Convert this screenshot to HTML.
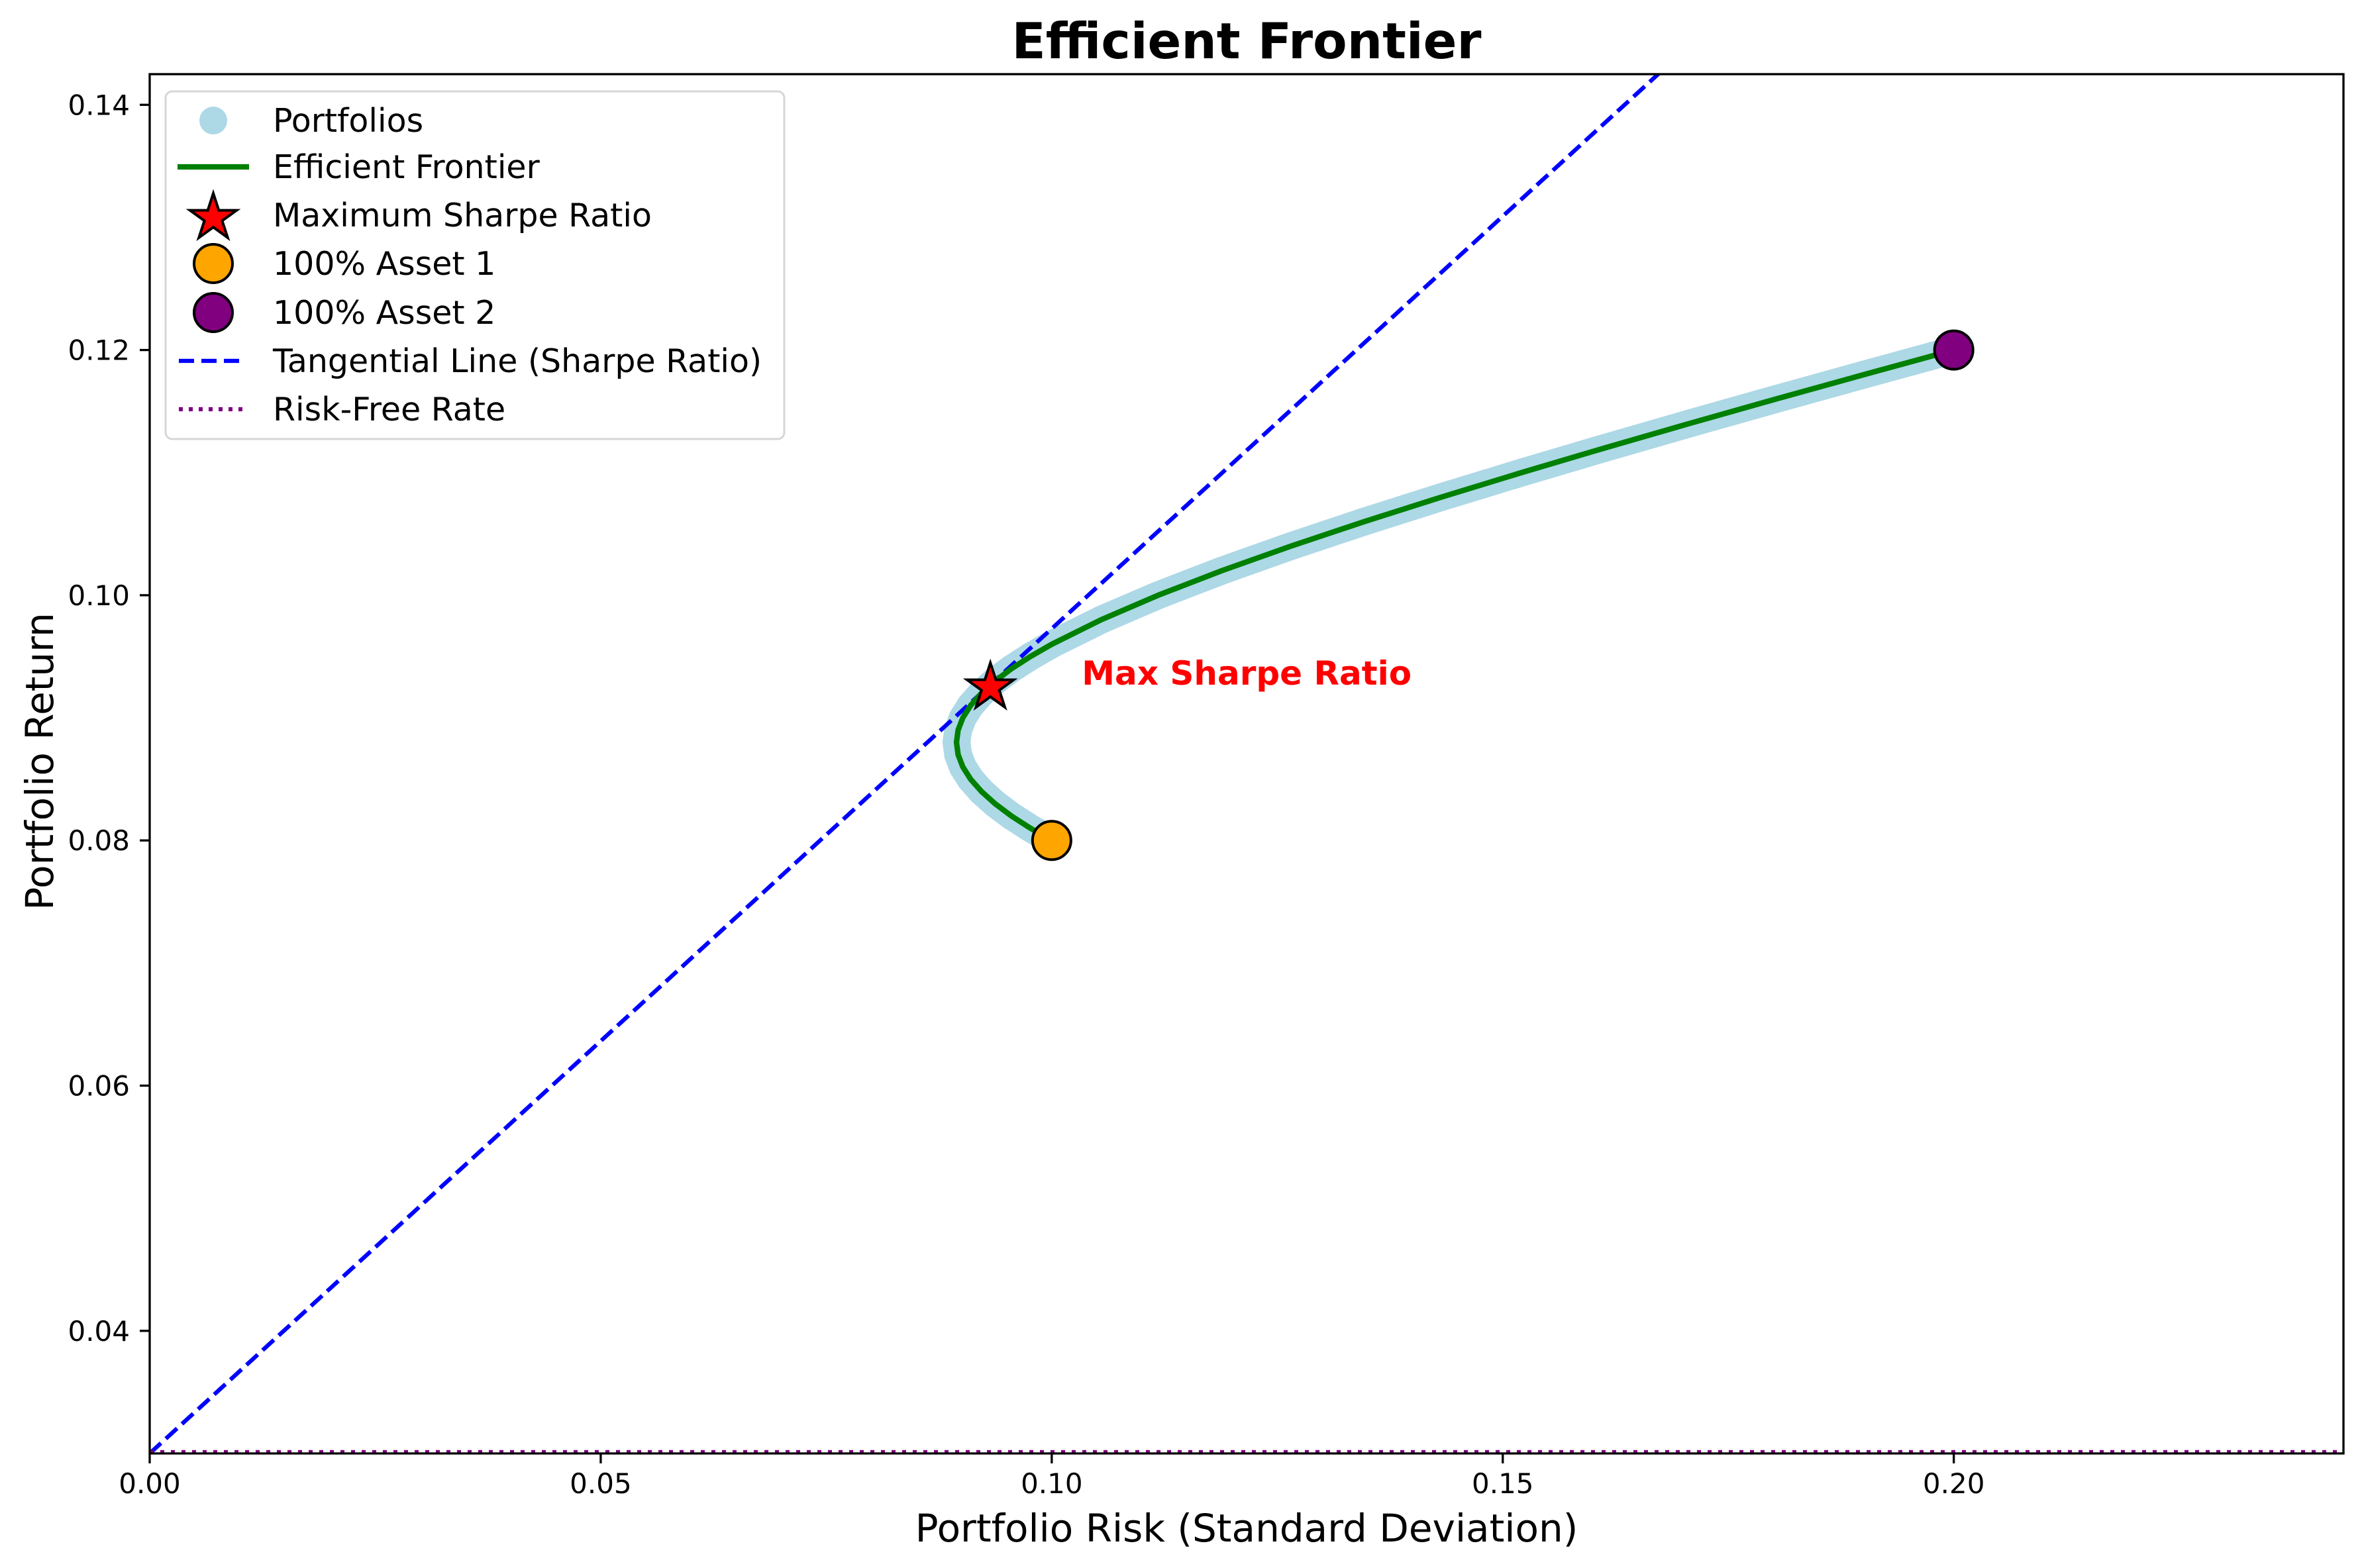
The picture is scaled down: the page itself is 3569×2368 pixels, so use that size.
<!DOCTYPE html>
<html><head><meta charset="utf-8"><style>
html,body{margin:0;padding:0;background:#fff;}
svg{display:block;font-family:"DejaVu Sans","Liberation Sans",sans-serif;}
</style></head><body>
<svg id="chart" width="3569" height="2368" viewBox="0 0 3569 2368" xmlns="http://www.w3.org/2000/svg">
<rect x="0" y="0" width="3569" height="2368" fill="#fff"/>
<text x="1882" y="88" text-anchor="middle" font-size="75" font-weight="bold">Efficient Frontier</text>
<g id="plot"></g>
<g id="axes"></g>
<text x="1882" y="2328" text-anchor="middle" font-size="58">Portfolio Risk (Standard Deviation)</text>
<text transform="translate(80,1150) rotate(-90)" text-anchor="middle" font-size="58">Portfolio Return</text>
<g id="legend">
<rect x="250" y="138" width="934" height="525" rx="10" fill="#fff" fill-opacity="0.8" stroke="#d6d6d6" stroke-width="3"/>
<g><circle cx="322" cy="182" r="21" fill="#add8e6"/><text x="412" y="199" font-size="49">Portfolios</text></g>
<g><line x1="268" y1="252" x2="376" y2="252" stroke="#008000" stroke-width="8.3"/><text x="412" y="269" font-size="49">Efficient Frontier</text></g>
<g><polygon id="legstar" fill="#ff0000" stroke="#000" stroke-width="4"/><text x="412" y="342" font-size="49">Maximum Sharpe Ratio</text></g>
<g><circle cx="322" cy="398" r="29" fill="#ffa500" stroke="#000" stroke-width="4"/><text x="412" y="415" font-size="49">100% Asset 1</text></g>
<g><circle cx="322" cy="472" r="29" fill="#800080" stroke="#000" stroke-width="4"/><text x="412" y="489" font-size="49">100% Asset 2</text></g>
<g><line x1="270" y1="545" x2="372" y2="545" stroke="#0000ff" stroke-width="6.25" stroke-dasharray="23,11"/><text x="412" y="562" font-size="49">Tangential Line (Sharpe Ratio)</text></g>
<g><line x1="270" y1="618" x2="372" y2="618" stroke="#800080" stroke-width="6.25" stroke-dasharray="6,9"/><text x="412" y="635" font-size="49">Risk-Free Rate</text></g>
</g>
</svg>
<script>
// data
const risk = [0.1,0.09763,0.09552,0.09371,0.0922,0.091,0.09014,0.08962,0.08944,0.08962,0.09014,0.091,0.0922,0.09371,0.09552,0.09763,0.1,0.10548,0.1118,0.11885,0.12649,0.13463,0.14318,0.15207,0.16125,0.17066,0.18028,0.19007,0.2];
const ret = [0.08,0.081,0.082,0.083,0.084,0.085,0.086,0.087,0.088,0.089,0.09,0.091,0.092,0.093,0.094,0.095,0.096,0.098,0.1,0.102,0.104,0.106,0.108,0.11,0.112,0.114,0.116,0.118,0.12];
const maxSharpe = [0.0932,0.0927];
const asset1 = [0.1,0.08];
const asset2 = [0.2,0.12];
const riskFree = [0.03];
const xTicks = ["0.00","0.05","0.10","0.15","0.20"];
const yTicks = ["0.04","0.06","0.08","0.10","0.12","0.14"];
const annotation = ["Max Sharpe Ratio"];

const L=226,R=3538,T=112,B=2195;
const XMIN=0,XMAX=0.2432,YMIN=0.03,YMAX=0.1425;
const sx=v=>L+(v-XMIN)/(XMAX-XMIN)*(R-L);
const sy=v=>B-(v-YMIN)/(YMAX-YMIN)*(B-T);
const NS="http://www.w3.org/2000/svg";
function mk(tag,attrs,parent){const e=document.createElementNS(NS,tag);for(const k in attrs)e.setAttribute(k,attrs[k]);parent.appendChild(e);return e;}
const plot=document.getElementById('plot');
const axes=document.getElementById('axes');
const cp=mk('clipPath',{id:'clip'},plot);
mk('rect',{x:L,y:T,width:R-L,height:B-T},cp);
const g=mk('g',{'clip-path':'url(#clip)'},plot);

// portfolio band + points
const pts=risk.map((r,i)=>sx(r)+','+sy(ret[i])).join(' ');
const band=mk('polyline',{points:pts,fill:'none',stroke:'#add8e6','stroke-width':42,'stroke-linecap':'round','stroke-linejoin':'round'},g);


risk.forEach((r,i)=>{const c=mk('circle',{cx:sx(r),cy:sy(ret[i]),r:21,fill:'#add8e6'},g);

});

// tangential line
const slope=(maxSharpe[1]-riskFree[0])/maxSharpe[0];
const tl=mk('line',{x1:sx(0),y1:sy(riskFree[0]),x2:sx(XMAX),y2:sy(riskFree[0]+slope*XMAX),stroke:'#0000ff','stroke-width':6.25,'stroke-dasharray':'23,10'},g);



// frontier
const fr=mk('polyline',{points:pts,fill:'none',stroke:'#008000','stroke-width':8.3,'stroke-linejoin':'round'},g);



// risk-free
const rf=mk('line',{x1:L,y1:sy(riskFree[0])-2,x2:R,y2:sy(riskFree[0])-2,stroke:'#800080','stroke-width':6.25,'stroke-dasharray':'6,10'},plot);



// star
function starPts(cx,cy,ro){const ri=ro*0.382;let a=[];for(let k=0;k<10;k++){const ang=-Math.PI/2+k*Math.PI/5;const rr=k%2?ri:ro;a.push((cx+rr*Math.cos(ang)).toFixed(1)+','+(cy+rr*Math.sin(ang)).toFixed(1));}return a.join(' ');}
const st=mk('polygon',{points:starPts(sx(maxSharpe[0]),sy(maxSharpe[1])+4,37),fill:'#ff0000',stroke:'#000','stroke-width':4},g);


document.getElementById('legstar').setAttribute('points',starPts(322,329,37));

const a1=mk('circle',{cx:sx(asset1[0]),cy:sy(asset1[1]),r:29,fill:'#ffa500',stroke:'#000','stroke-width':4},g);


const a2=mk('circle',{cx:sx(asset2[0]),cy:sy(asset2[1]),r:29,fill:'#800080',stroke:'#000','stroke-width':4},g);



const an=mk('text',{x:sx(maxSharpe[0])+138,y:sy(maxSharpe[1]),fill:'#ff0000','font-size':50,'font-weight':'bold'},plot);
an.textContent=annotation[0];



// axes frame
const fm=mk('rect',{x:L,y:T,width:R-L,height:B-T,fill:'none',stroke:'#000','stroke-width':3.3},axes);


xTicks.forEach(t=>{const x=sx(parseFloat(t));
const tk=mk('line',{x1:x,y1:B,x2:x,y2:B+15,stroke:'#000','stroke-width':3.3},axes);


const tx=mk('text',{x:x,y:B+60,'text-anchor':'middle','font-size':42},axes);tx.textContent=t;

});
yTicks.forEach(t=>{const y=sy(parseFloat(t));
const tk=mk('line',{x1:L-15,y1:y,x2:L,y2:y,stroke:'#000','stroke-width':3.3},axes);


const tx=mk('text',{x:L-30,y:y+15,'text-anchor':'end','font-size':42},axes);tx.textContent=t;

});
</script>
</body></html>
